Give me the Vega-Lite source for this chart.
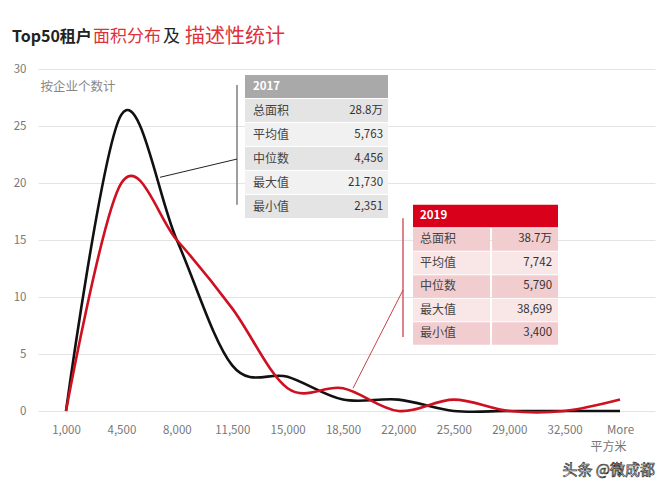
{
  "$schema": "https://vega.github.io/schema/vega-lite/v6.json",
  "width": 617,
  "height": 342,
  "autosize": {"type": "none"},
  "padding": {"left": 38, "top": 69, "right": 17, "bottom": 79},
  "background": "#ffffff",
  "config": {
    "view": {"stroke": null},
    "font": "Noto Sans CJK SC",
    "text": {"font": "Noto Sans CJK SC"}
  },
  "datasets": {
    "dist": [
      {"bin": 1000, "year": "2017", "count": 0},
      {"bin": 4500, "year": "2017", "count": 26},
      {"bin": 8000, "year": "2017", "count": 15},
      {"bin": 11500, "year": "2017", "count": 4},
      {"bin": 15000, "year": "2017", "count": 3},
      {"bin": 18500, "year": "2017", "count": 1},
      {"bin": 22000, "year": "2017", "count": 1},
      {"bin": 25500, "year": "2017", "count": 0},
      {"bin": 29000, "year": "2017", "count": 0},
      {"bin": 32500, "year": "2017", "count": 0},
      {"bin": 36000, "year": "2017", "count": 0},
      {"bin": 1000, "year": "2019", "count": 0},
      {"bin": 4500, "year": "2019", "count": 20},
      {"bin": 8000, "year": "2019", "count": 15},
      {"bin": 11500, "year": "2019", "count": 9},
      {"bin": 15000, "year": "2019", "count": 2},
      {"bin": 18500, "year": "2019", "count": 2},
      {"bin": 22000, "year": "2019", "count": 0},
      {"bin": 25500, "year": "2019", "count": 1},
      {"bin": 29000, "year": "2019", "count": 0},
      {"bin": 32500, "year": "2019", "count": 0},
      {"bin": 36000, "year": "2019", "count": 1}
    ],
    "stats": [
      {"year": "2017", "row": 0, "label": "2017", "value": ""},
      {"year": "2017", "row": 1, "label": "总面积", "value": "28.8万"},
      {"year": "2017", "row": 2, "label": "平均值", "value": "5,763"},
      {"year": "2017", "row": 3, "label": "中位数", "value": "4,456"},
      {"year": "2017", "row": 4, "label": "最大值", "value": "21,730"},
      {"year": "2017", "row": 5, "label": "最小值", "value": "2,351"},
      {"year": "2019", "row": 0, "label": "2019", "value": ""},
      {"year": "2019", "row": 1, "label": "总面积", "value": "38.7万"},
      {"year": "2019", "row": 2, "label": "平均值", "value": "7,742"},
      {"year": "2019", "row": 3, "label": "中位数", "value": "5,790"},
      {"year": "2019", "row": 4, "label": "最大值", "value": "38,699"},
      {"year": "2019", "row": 5, "label": "最小值", "value": "3,400"}
    ]
  },
  "layer": [
    {
      "layer": [
        {
          "data": {"name": "dist"},
          "mark": {"type": "line", "interpolate": "cardinal", "strokeWidth": 2.6},
          "encoding": {
            "x": {
              "field": "bin", "type": "quantitative",
              "scale": {"domain": [-769, 38211], "nice": false, "zero": false},
              "axis": {
                "values": [1000, 4500, 8000, 11500, 15000, 18500, 22000, 25500, 29000, 32500, 36000],
                "labelExpr": "datum.value == 36000 ? 'More' : format(datum.value, ',')",
                "grid": false, "domain": false, "ticks": false,
                "labelPadding": 13, "labelFontSize": 11.5, "labelColor": "#777777",
                "title": "平方米", "titleX": 588, "titleY": 35, "titleAlign": "right",
                "titleBaseline": "middle", "titleColor": "#777777", "titleFontSize": 12,
                "titleFontWeight": "normal"
              }
            },
            "y": {
              "field": "count", "type": "quantitative",
              "scale": {"domain": [0, 30], "nice": false},
              "axis": {
                "values": [0, 5, 10, 15, 20, 25, 30],
                "grid": true, "gridColor": "#e4e4e4", "domain": false, "ticks": false,
                "labelPadding": 12, "labelFontSize": 11.5, "labelColor": "#777777",
                "title": "按企业个数计", "titleAngle": 0, "titleAlign": "left",
                "titleBaseline": "middle", "titleX": 2, "titleY": 17,
                "titleColor": "#888888", "titleFontSize": 12.5, "titleFontWeight": "normal"
              }
            },
            "color": {
              "field": "year", "type": "nominal",
              "scale": {"domain": ["2017", "2019"], "range": ["#111111", "#cf1020"]},
              "legend": null
            }
          }
        },
        {
          "data": {"values": [{}]},
          "mark": {"type": "rule", "color": "#6b6b6b", "strokeWidth": 1.3},
          "encoding": {
            "x": {"datum": 11803, "type": "quantitative"},
            "y": {"datum": 28.6, "type": "quantitative"},
            "y2": {"datum": 18.1}
          }
        },
        {
          "data": {"values": [{}]},
          "mark": {"type": "rule", "color": "#222222", "strokeWidth": 1},
          "encoding": {
            "x": {"datum": 11803, "type": "quantitative"},
            "x2": {"datum": 6939},
            "y": {"datum": 22.1, "type": "quantitative"},
            "y2": {"datum": 20.5}
          }
        },
        {
          "data": {"values": [{}]},
          "mark": {"type": "rule", "color": "#c8424d", "strokeWidth": 1.3},
          "encoding": {
            "x": {"datum": 22290, "type": "quantitative"},
            "y": {"datum": 16.9, "type": "quantitative"},
            "y2": {"datum": 6.5}
          }
        },
        {
          "data": {"values": [{}]},
          "mark": {"type": "rule", "color": "#c8424d", "strokeWidth": 1},
          "encoding": {
            "x": {"datum": 22290, "type": "quantitative"},
            "x2": {"datum": 19132},
            "y": {"datum": 10.6, "type": "quantitative"},
            "y2": {"datum": 2.0}
          }
        },
        {
          "data": {"values": [{}]},
          "mark": {"type": "text", "text": "Top50租户", "align": "left", "baseline": "middle", "fontSize": 16, "fontWeight": "bold", "color": "#222222", "clip": false},
          "encoding": {
            "x": {"datum": -2412, "type": "quantitative"},
            "y": {"datum": 32.8, "type": "quantitative"}
          }
        },
        {
          "data": {"values": [{}]},
          "mark": {"type": "text", "text": "面积分布", "align": "left", "baseline": "middle", "fontSize": 17, "color": "#e0303a", "clip": false},
          "encoding": {
            "x": {"datum": 2706, "type": "quantitative"},
            "y": {"datum": 32.8, "type": "quantitative"}
          }
        },
        {
          "data": {"values": [{}]},
          "mark": {"type": "text", "text": "及", "align": "left", "baseline": "middle", "fontSize": 17, "color": "#222222", "clip": false},
          "encoding": {
            "x": {"datum": 7128, "type": "quantitative"},
            "y": {"datum": 32.8, "type": "quantitative"}
          }
        },
        {
          "data": {"values": [{}]},
          "mark": {"type": "text", "text": "描述性统计", "align": "left", "baseline": "middle", "fontSize": 20, "color": "#e0303a", "clip": false},
          "encoding": {
            "x": {"datum": 8518, "type": "quantitative"},
            "y": {"datum": 32.8, "type": "quantitative"}
          }
        },
        {
          "data": {"values": [{}]},
          "mark": {"type": "text", "text": "头条 @微成都", "align": "right", "baseline": "middle", "fontSize": 15, "fill": "#ffffff", "stroke": "#333333", "strokeWidth": 0.7, "clip": false},
          "encoding": {
            "x": {"datum": 38211, "type": "quantitative"},
            "y": {"datum": -5.2, "type": "quantitative"}
          }
        }
      ]
    },
    {
      "data": {"name": "stats"},
      "transform": [{"filter": "datum.year == '2017'"}],
      "encoding": {
        "y": {
          "field": "row", "type": "quantitative",
          "scale": {"domain": [-0.73, 13.52], "reverse": true, "nice": false, "zero": false},
          "axis": null
        }
      },
      "layer": [
        {
          "mark": {"type": "rect", "height": 23},
          "encoding": {
            "x": {"datum": 12309, "type": "quantitative"},
            "x2": {"datum": 21343},
            "color": {
              "field": "row", "type": "ordinal",
              "scale": {"domain": [0, 1, 2, 3, 4, 5], "range": ["#a9a9a9", "#e4e4e4", "#f1f1f1", "#e4e4e4", "#f1f1f1", "#e4e4e4"]},
              "legend": null
            }
          }
        },
        {
          "transform": [{"filter": "datum.row > 0"}],
          "mark": {"type": "text", "align": "left", "baseline": "middle", "fontSize": 12, "color": "#444444"},
          "encoding": {
            "x": {"datum": 12814, "type": "quantitative"},
            "text": {"field": "label"}
          }
        },
        {
          "transform": [{"filter": "datum.row > 0"}],
          "mark": {"type": "text", "align": "right", "baseline": "middle", "fontSize": 11.5, "color": "#333333"},
          "encoding": {
            "x": {"datum": 21028, "type": "quantitative"},
            "text": {"field": "value"}
          }
        },
        {
          "transform": [{"filter": "datum.row == 0"}],
          "mark": {"type": "text", "align": "left", "baseline": "middle", "fontSize": 11.5, "fontWeight": "bold", "color": "#ffffff"},
          "encoding": {
            "x": {"datum": 12814, "type": "quantitative"},
            "text": {"field": "label"}
          }
        }
      ]
    },
    {
      "data": {"name": "stats"},
      "transform": [{"filter": "datum.year == '2019'"}],
      "encoding": {
        "y": {
          "field": "row", "type": "quantitative",
          "scale": {"domain": [-6.255, 8.298], "reverse": true, "nice": false, "zero": false},
          "axis": null
        }
      },
      "layer": [
        {
          "transform": [{"filter": "datum.row == 0"}],
          "mark": {"type": "rect", "height": 22.5, "color": "#d9001b"},
          "encoding": {
            "x": {"datum": 22922, "type": "quantitative"},
            "x2": {"datum": 32083}
          }
        },
        {
          "transform": [{"filter": "datum.row > 0"}],
          "mark": {"type": "rect", "height": 22.5},
          "encoding": {
            "x": {"datum": 22922, "type": "quantitative"},
            "x2": {"datum": 27788},
            "color": {
              "field": "row", "type": "ordinal",
              "scale": {"domain": [1, 2, 3, 4, 5], "range": ["#f2cdd0", "#f9e6e7", "#f2cdd0", "#f9e6e7", "#f2cdd0"]},
              "legend": null
            }
          }
        },
        {
          "transform": [{"filter": "datum.row > 0"}],
          "mark": {"type": "rect", "height": 22.5},
          "encoding": {
            "x": {"datum": 27915, "type": "quantitative"},
            "x2": {"datum": 32083},
            "color": {
              "field": "row", "type": "ordinal",
              "scale": {"domain": [1, 2, 3, 4, 5], "range": ["#f2cdd0", "#f9e6e7", "#f2cdd0", "#f9e6e7", "#f2cdd0"]},
              "legend": null
            }
          }
        },
        {
          "transform": [{"filter": "datum.row > 0"}],
          "mark": {"type": "text", "align": "left", "baseline": "middle", "fontSize": 12, "color": "#444444"},
          "encoding": {
            "x": {"datum": 23366, "type": "quantitative"},
            "text": {"field": "label"}
          }
        },
        {
          "transform": [{"filter": "datum.row > 0"}],
          "mark": {"type": "text", "align": "right", "baseline": "middle", "fontSize": 11.5, "color": "#333333"},
          "encoding": {
            "x": {"datum": 31705, "type": "quantitative"},
            "text": {"field": "value"}
          }
        },
        {
          "transform": [{"filter": "datum.row == 0"}],
          "mark": {"type": "text", "align": "left", "baseline": "middle", "fontSize": 11.5, "fontWeight": "bold", "color": "#ffffff"},
          "encoding": {
            "x": {"datum": 23366, "type": "quantitative"},
            "text": {"field": "label"}
          }
        }
      ]
    }
  ],
  "resolve": {"scale": {"y": "independent", "color": "independent"}}
}
